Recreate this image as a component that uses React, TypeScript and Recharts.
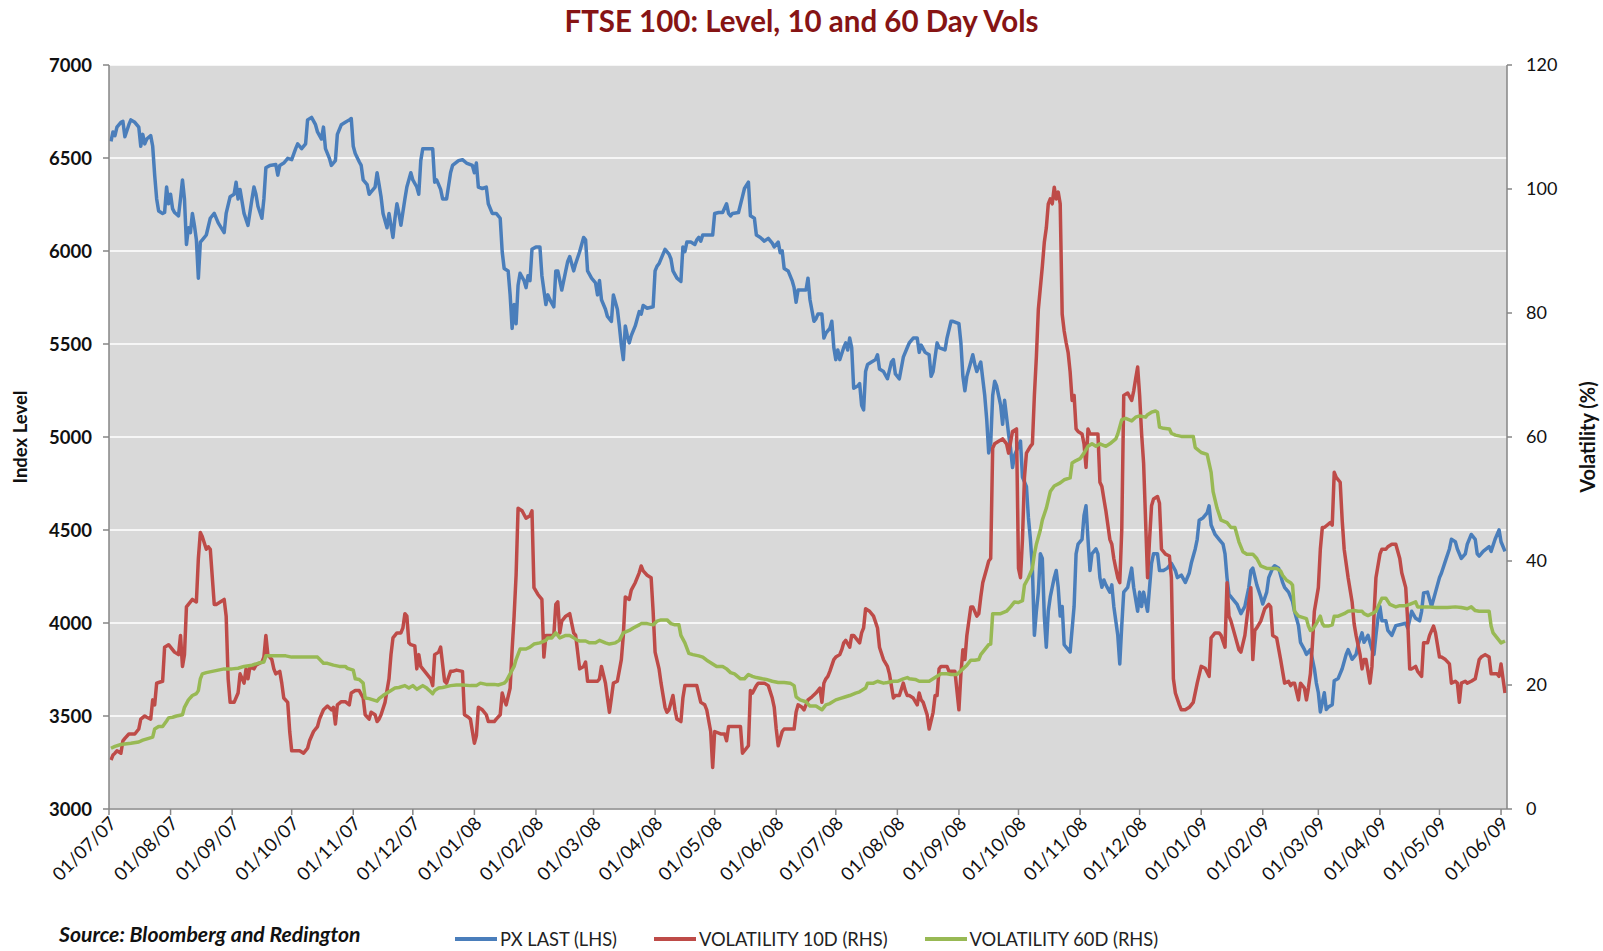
import { LineChart, Line, XAxis, YAxis, CartesianGrid } from "recharts";

// x values are days counted from 01/07/07
const START = Date.UTC(2007, 6, 1);
const DAY = 86400000;

const monthTicks = [
  "01/07/07", "01/08/07", "01/09/07", "01/10/07", "01/11/07", "01/12/07",
  "01/01/08", "01/02/08", "01/03/08", "01/04/08", "01/05/08", "01/06/08",
  "01/07/08", "01/08/08", "01/09/08", "01/10/08", "01/11/08", "01/12/08",
  "01/01/09", "01/02/09", "01/03/09", "01/04/09", "01/05/09", "01/06/09",
];
const axisEnd = "04/06/09";

const leftTicks = [3000, 3500, 4000, 4500, 5000, 5500, 6000, 6500, 7000];
const rightTicks = [0, 20, 40, 60, 80, 100, 120];

// PX LAST (LHS) [day, level]
const pxLast: [number, number][] = [
  [1, 6589], [2, 6640], [3, 6620], [4, 6666], [6, 6692], [7, 6697], [8, 6614], [10, 6679], [11, 6705], [13, 6692],
  [15, 6666], [16, 6563], [17, 6627], [18, 6576], [19, 6602], [21, 6620], [22, 6563], [23, 6408], [24, 6280], [25, 6215],
  [27, 6202], [28, 6207], [29, 6344], [30, 6254], [31, 6305], [32, 6228], [33, 6207], [35, 6189], [36, 6280], [37, 6382],
  [38, 6280], [39, 6035], [40, 6125], [41, 6099], [42, 6202], [43, 6138], [44, 6060], [45, 5854], [46, 6048], [47, 6060],
  [49, 6086], [51, 6176], [53, 6202], [55, 6151], [58, 6099], [59, 6202], [61, 6292], [63, 6305], [64, 6370], [65, 6280],
  [66, 6331], [68, 6202], [70, 6138], [72, 6280], [73, 6344], [74, 6305], [75, 6241], [77, 6176], [78, 6280], [79, 6447],
  [81, 6460], [84, 6465], [85, 6408], [86, 6460], [88, 6473], [90, 6498], [92, 6491], [94, 6550], [95, 6576], [97, 6550],
  [99, 6576], [100, 6705], [102, 6718], [104, 6679], [105, 6640], [107, 6602], [108, 6666], [109, 6550], [111, 6498], [112, 6460],
  [114, 6486], [115, 6627], [117, 6679], [119, 6692],
  [121, 6705], [122, 6712], [123, 6563], [124, 6524], [126, 6480], [127, 6460], [128, 6382], [130, 6357], [131, 6305], [132, 6318],
  [134, 6344], [135, 6421], [136, 6357], [137, 6292], [138, 6202], [140, 6125], [141, 6202], [142, 6138], [143, 6073], [144, 6176],
  [145, 6254], [146, 6202], [147, 6138], [149, 6280], [150, 6344], [152, 6421], [153, 6382], [155, 6344], [156, 6305], [157, 6486],
  [158, 6550], [160, 6550], [162, 6550], [163, 6550], [164, 6370], [165, 6382], [167, 6331], [168, 6280], [170, 6280], [172, 6421],
  [173, 6460], [176, 6486], [178, 6491], [180, 6473], [183, 6460], [184, 6421], [185, 6473], [186, 6344], [188, 6336], [190, 6344],
  [191, 6254], [193, 6202], [195, 6202], [197, 6176], [198, 5996], [199, 5906], [201, 5893], [202, 5764], [203, 5584], [204, 5712],
  [205, 5609], [206, 5816], [207, 5880], [209, 5841], [210, 5803], [211, 5867], [212, 5841], [213, 6009], [215, 6022], [217, 6022],
  [218, 5867], [220, 5712], [221, 5764], [222, 5738], [224, 5700], [225, 5893], [226, 5893], [228, 5790], [230, 5893], [231, 5944],
  [232, 5970], [234, 5893], [235, 5932], [237, 5996],
  [239, 6073], [240, 6060], [241, 5893], [243, 5854], [245, 5829], [246, 5764], [247, 5841], [248, 5738], [250, 5687], [251, 5648],
  [253, 5622], [254, 5764], [256, 5687], [257, 5597], [258, 5494], [259, 5416], [260, 5597], [261, 5545], [262, 5506], [263, 5545],
  [265, 5597], [267, 5674], [268, 5661], [269, 5707], [271, 5692], [274, 5700], [275, 5893], [276, 5919], [277, 5932], [279, 5983],
  [280, 6009], [282, 5983], [283, 5957], [284, 5893], [286, 5854], [288, 5836], [289, 6022], [290, 5996], [291, 6048], [293, 6048],
  [295, 6035], [296, 6060], [297, 6073], [298, 6053], [299, 6086], [301, 6086], [304, 6086], [305, 6202], [307, 6207], [309, 6207],
  [311, 6254], [312, 6202], [313, 6189], [314, 6202], [317, 6207], [319, 6292], [320, 6336], [322, 6370], [323, 6189], [325, 6176],
  [326, 6086], [328, 6073], [330, 6053], [332, 6068], [334, 6042], [335, 6022], [337, 6048], [338, 5991], [339, 6001], [340, 5906],
  [342, 5893], [344, 5841], [345, 5803], [346, 5725], [347, 5790], [349, 5790], [351, 5790], [352, 5854], [353, 5738], [355, 5622],
  [356, 5635],
  [357, 5661], [359, 5661], [360, 5532], [361, 5558], [363, 5584], [364, 5622], [365, 5481], [366, 5416], [367, 5468], [368, 5416],
  [370, 5481], [371, 5506], [372, 5468], [373, 5532], [374, 5481], [375, 5262], [377, 5274], [378, 5287], [379, 5171], [380, 5146],
  [381, 5352], [382, 5390], [384, 5403], [386, 5416], [387, 5442], [388, 5365], [390, 5352], [392, 5313], [394, 5403], [395, 5416],
  [396, 5339], [398, 5313], [400, 5429], [402, 5481], [403, 5506], [405, 5532], [407, 5532], [408, 5455], [409, 5494], [411, 5455],
  [413, 5442], [414, 5326], [415, 5352], [417, 5506], [418, 5481], [421, 5468], [422, 5532], [424, 5622], [425, 5622], [428, 5609],
  [429, 5506], [430, 5326], [431, 5249], [432, 5326], [434, 5403], [435, 5442], [436, 5390], [437, 5352], [439, 5403], [440, 5313],
  [441, 5223], [442, 5094], [443, 4914], [444, 4965], [445, 5223], [446, 5300], [447, 5274], [448, 5223], [449, 5171], [450, 5068],
  [451, 5197], [452, 5107], [453, 5017], [454, 4939], [455, 4836], [456, 4901], [457, 4927], [459, 4978], [460, 4785], [462, 4733],
  [463, 4566], [464, 4450], [465, 4295], [466, 3934], [467, 4063], [468, 4166], [469, 4372], [470, 4347], [471, 4037], [472, 3870],
  [473, 4063], [474, 4140],
  [476, 4244], [477, 4282], [478, 4192], [479, 4037], [480, 4089], [481, 3883], [483, 3857], [484, 3844], [486, 4089], [487, 4372],
  [488, 4424], [490, 4450], [491, 4579], [492, 4630], [493, 4450], [494, 4282], [495, 4372], [497, 4398], [498, 4372], [499, 4244],
  [500, 4192], [501, 4231], [502, 4205], [504, 4166], [505, 4205], [506, 4089], [508, 3934], [509, 3780], [510, 3986], [511, 4166],
  [513, 4192], [514, 4244], [515, 4295], [516, 4192], [518, 4063], [519, 4166], [520, 4089], [521, 4166], [523, 4063], [524, 4192],
  [525, 4321], [526, 4372], [528, 4372], [529, 4282], [531, 4282], [533, 4295], [535, 4321], [537, 4282], [538, 4244], [540, 4257],
  [542, 4218], [544, 4269], [545, 4321], [547, 4398], [548, 4450], [549, 4553], [551, 4566], [553, 4592], [554, 4630], [555, 4527],
  [557, 4476], [559, 4450], [561, 4424], [562, 4372], [563, 4244], [564, 4153], [565, 4141], [568, 4102], [570, 4050], [572, 4089],
  [574, 4192], [575, 4282], [576, 4295], [578, 4205], [580, 4141], [581, 4102], [583, 4166], [584, 4244], [586, 4295], [587, 4308],
  [589, 4295], [591, 4218], [592, 4192],
  [594, 4166], [596, 4115], [597, 4063], [599, 3986], [600, 3896], [602, 3857], [603, 3831], [605, 3857], [607, 3754], [608, 3677],
  [609, 3625], [610, 3522], [612, 3625], [613, 3535], [614, 3548], [616, 3561], [617, 3690], [619, 3702], [621, 3754], [623, 3831],
  [624, 3857], [626, 3805], [628, 3831], [629, 3883], [631, 3947], [632, 3896], [634, 3934], [636, 3857], [637, 3831], [638, 3934],
  [639, 4025], [640, 4089], [641, 4012], [643, 4012], [644, 3960], [646, 3934], [648, 3986], [650, 3991], [653, 3999], [654, 3973],
  [656, 4063], [658, 4025], [660, 4012], [661, 4063], [662, 4161], [664, 4166], [666, 4089], [668, 4166], [670, 4244], [671, 4269],
  [673, 4334], [675, 4398], [676, 4450], [678, 4437], [679, 4398], [681, 4347], [683, 4372], [684, 4424], [686, 4476], [688, 4450],
  [689, 4372], [690, 4360], [692, 4385], [695, 4411], [696, 4385], [698, 4450], [700, 4501], [701, 4437], [703, 4385],
];

// VOLATILITY 10D (RHS) [day, %]
const vol10d: [number, number][] = [
  [1, 7.9], [2, 8.7], [3, 9.0], [4, 9.4], [6, 9.0], [7, 11.0], [8, 11.4], [10, 12.1], [11, 12.1], [13, 12.1],
  [15, 12.9], [16, 14.5], [18, 15.0], [19, 14.8], [21, 14.5], [22, 17.6], [23, 16.8], [24, 20.3], [25, 20.4], [27, 20.6],
  [28, 26.1], [30, 26.5], [31, 26.1], [33, 25.3], [35, 24.9], [36, 28.0], [37, 23.0], [38, 24.9], [39, 32.6], [41, 33.4],
  [42, 33.8], [44, 33.4], [45, 40.4], [46, 44.6], [47, 43.9], [49, 41.9], [50, 42.3], [51, 41.9], [53, 33.0], [54, 33.0],
  [56, 33.4], [58, 33.8], [59, 31.1], [60, 21.0], [61, 17.2], [63, 17.2], [65, 18.7], [66, 21.8], [68, 20.3], [69, 22.6],
  [70, 21.0], [71, 23.0], [73, 22.6], [74, 23.2], [77, 23.7], [78, 24.5], [79, 28.0], [80, 24.9], [82, 24.1], [83, 22.6],
  [84, 21.8], [86, 22.2], [87, 20.3], [88, 17.9], [90, 17.2], [91, 12.5], [92, 9.4], [94, 9.4], [96, 9.4], [98, 9.0],
  [100, 9.8], [101, 11.0], [103, 12.5], [105, 13.3], [106, 14.5], [108, 16.0], [110, 16.6], [112, 16.0], [113, 16.4], [114, 13.7],
  [115, 16.8], [117, 17.3], [119, 17.3],
  [121, 16.8], [122, 18.7], [124, 19.1], [126, 19.1], [128, 17.9], [129, 15.2], [131, 14.5], [132, 15.6], [134, 15.2], [135, 14.1],
  [136, 14.5], [137, 15.2], [139, 17.2], [141, 21.0], [142, 24.9], [143, 27.6], [145, 28.4], [147, 28.4], [148, 29.2], [149, 31.5],
  [150, 31.1], [151, 26.8], [152, 26.5], [154, 26.3], [155, 22.6], [156, 24.9], [157, 23.0], [159, 22.2], [160, 21.8], [162, 21.0],
  [163, 19.9], [164, 24.9], [166, 25.3], [167, 26.1], [169, 20.6], [170, 20.3], [172, 22.2], [173, 22.2], [175, 22.4], [178, 22.2],
  [179, 15.2], [181, 14.8], [182, 14.5], [183, 12.5], [184, 10.6], [185, 11.8], [186, 16.4], [188, 16.0], [190, 15.2], [191, 14.1],
  [194, 14.1], [195, 14.5], [197, 15.2], [198, 18.7], [199, 17.6], [200, 16.8], [202, 19.5], [203, 25.7], [204, 31.1], [205, 37.7],
  [206, 48.5], [208, 48.1], [210, 46.9], [212, 47.3], [213, 48.1], [214, 35.7], [216, 34.6], [218, 33.8], [219, 24.5], [220, 28.0],
  [222, 28.0], [224, 28.0], [225, 33.0], [226, 33.4], [227, 28.4], [228, 30.3], [230, 31.1], [232, 31.5], [234, 28.4], [235, 28.0],
  [236, 25.3], [237, 22.6],
  [239, 23.0], [240, 23.7], [241, 20.6], [243, 20.6], [246, 20.6], [247, 21.0], [248, 23.0], [250, 20.3], [251, 17.9], [252, 15.6],
  [253, 17.9], [254, 20.3], [256, 20.6], [258, 24.1], [259, 28.0], [260, 34.2], [262, 33.8], [263, 35.3], [265, 36.5], [267, 38.1],
  [268, 39.2], [269, 38.4], [271, 37.7], [273, 37.3], [274, 31.9], [275, 25.3], [277, 22.6], [278, 20.3], [280, 16.4], [281, 15.6],
  [282, 16.0], [284, 18.3], [285, 16.0], [286, 14.5], [288, 14.1], [289, 17.9], [290, 19.9], [292, 19.9], [294, 19.9], [296, 19.9],
  [298, 17.2], [300, 16.8], [301, 16.0], [303, 12.5], [304, 6.7], [305, 12.5], [308, 12.1], [310, 12.1], [311, 11.0], [312, 13.3],
  [314, 13.3], [317, 13.3], [318, 13.3], [319, 9.0], [320, 9.4], [322, 10.2], [323, 19.1], [324, 18.7], [326, 19.9], [327, 20.3],
  [330, 20.3], [332, 19.9], [334, 17.9], [335, 16.4], [336, 12.9], [337, 10.2], [339, 12.5], [340, 12.9], [343, 12.9], [345, 12.9],
  [346, 15.6], [347, 16.8], [349, 16.4], [350, 16.0], [352, 17.6], [354, 18.1], [356, 18.7],
  [358, 19.5], [359, 17.2], [360, 20.3], [361, 21.0], [362, 21.4], [363, 22.2], [365, 24.1], [366, 24.5], [368, 24.9], [369, 25.7],
  [370, 26.8], [371, 27.2], [373, 26.1], [374, 28.0], [375, 28.0], [377, 27.2], [378, 26.8], [379, 28.4], [380, 29.2], [381, 32.3],
  [383, 31.9], [385, 31.1], [387, 29.2], [388, 26.1], [390, 24.1], [392, 23.0], [393, 21.8], [395, 17.9], [396, 18.3], [398, 18.3],
  [400, 20.3], [401, 19.1], [402, 18.3], [403, 18.3], [405, 17.9], [407, 16.8], [408, 18.7], [409, 17.6], [410, 17.2], [412, 15.2],
  [413, 12.9], [415, 15.6], [416, 18.3], [417, 18.3], [418, 22.6], [419, 23.0], [422, 23.0], [423, 22.2], [424, 22.2], [426, 22.2],
  [428, 16.0], [429, 21.8], [430, 25.7], [431, 24.1], [432, 28.0], [434, 32.6], [435, 32.6], [437, 31.1], [438, 31.5], [439, 34.2],
  [440, 36.5], [442, 38.8], [443, 40.0], [444, 40.4], [445, 58.2], [446, 58.9], [448, 59.3], [450, 59.7], [452, 58.9], [453, 57.4],
  [455, 60.9], [457, 61.3], [458, 38.8], [459, 37.3], [460, 43.5], [461, 53.5], [462, 57.4], [464, 58.5], [465, 58.9], [466, 66.7],
  [467, 72.9], [468, 80.6], [470, 87.5], [471, 91.4], [472, 93.7], [473, 97.6], [474, 98.4],
  [475, 97.6], [476, 100.3], [477, 98.4], [478, 99.5], [479, 97.6], [480, 79.8], [481, 77.1], [482, 75.2], [483, 73.6], [484, 70.5],
  [485, 65.9], [486, 66.7], [487, 61.3], [488, 60.9], [490, 60.5], [491, 58.9], [492, 55.1], [493, 61.3], [494, 60.5], [497, 60.5],
  [498, 60.5], [499, 52.7], [500, 52.0], [501, 50.0], [502, 48.1], [504, 43.5], [505, 42.7], [506, 40.4], [507, 38.8], [508, 37.3],
  [509, 36.5], [510, 45.0], [511, 66.7], [513, 67.1], [515, 65.9], [516, 67.4], [517, 69.4], [518, 71.3], [519, 66.7], [520, 60.5],
  [521, 55.8], [523, 37.3], [524, 43.5], [525, 48.9], [526, 50.0], [528, 50.4], [529, 49.3], [530, 41.9], [531, 41.5], [532, 41.1],
  [534, 40.8], [535, 37.3], [536, 21.0], [537, 18.7], [539, 16.8], [540, 16.0], [542, 16.0], [544, 16.4], [546, 17.2], [548, 20.3],
  [550, 23.0], [552, 22.7], [554, 21.4], [555, 27.6], [557, 28.4], [559, 28.4], [560, 28.0], [562, 26.1], [563, 36.5], [564, 31.1],
  [565, 30.3], [567, 28.0], [569, 25.7], [570, 25.3], [572, 28.0], [574, 33.4], [575, 35.7], [576, 24.1], [577, 28.8], [578, 29.2],
  [580, 30.3], [582, 32.3], [584, 33.0], [585, 32.6], [586, 28.0], [588, 27.6], [590, 24.1], [592, 20.3],
  [594, 20.6], [595, 19.9], [596, 20.3], [597, 20.3], [599, 17.6], [600, 20.3], [601, 19.9], [602, 19.5], [603, 17.6], [604, 19.5],
  [605, 21.8], [606, 26.5], [607, 31.9], [609, 35.7], [610, 41.9], [611, 45.4], [612, 45.4], [615, 46.2], [616, 45.8], [617, 54.3],
  [618, 53.5], [620, 52.7], [621, 46.6], [622, 41.9], [623, 39.6], [624, 37.3], [626, 33.4], [627, 29.9], [628, 28.0], [630, 24.9],
  [631, 22.6], [632, 24.1], [633, 24.1], [635, 20.3], [636, 23.0], [637, 31.1], [638, 37.3], [640, 41.1], [641, 41.9], [643, 41.9],
  [644, 42.3], [646, 42.7], [648, 42.7], [650, 40.4], [651, 38.1], [653, 35.7], [654, 30.3], [655, 22.6], [656, 22.6], [658, 23.0],
  [659, 22.2], [661, 21.4], [662, 26.8], [664, 26.8], [665, 28.0], [667, 29.5], [668, 28.4], [670, 24.5], [671, 24.5], [673, 24.1],
  [675, 23.4], [676, 20.3], [678, 20.6], [679, 20.3], [680, 17.2], [681, 20.3], [683, 20.6], [684, 20.3], [686, 20.6], [688, 21.0],
  [690, 24.1], [691, 24.5], [693, 24.9], [695, 24.5], [696, 21.8], [697, 21.8], [699, 21.8], [700, 21.4], [701, 23.4], [702, 21.0],
  [703, 18.7],
];

// VOLATILITY 60D (RHS) [day, %]
const vol60d: [number, number][] = [
  [1, 9.8], [3, 10.1], [6, 10.4], [11, 10.6], [15, 10.8], [17, 11.1], [20, 11.4], [22, 11.6], [23, 12.9], [25, 13.3],
  [27, 13.3], [29, 14.2], [30, 14.7], [32, 14.8], [34, 15.0], [37, 15.2], [38, 16.4], [40, 17.6], [42, 18.3], [44, 18.6],
  [45, 19.1], [46, 21.0], [47, 21.8], [49, 22.0], [52, 22.2], [55, 22.4], [58, 22.6], [62, 22.6], [65, 22.7], [68, 23.0],
  [72, 23.2], [75, 23.5], [78, 23.7], [79, 24.7], [82, 24.7], [85, 24.7], [89, 24.7], [92, 24.5], [95, 24.5], [99, 24.5],
  [102, 24.5], [105, 24.5], [108, 23.5], [110, 23.5], [113, 23.2], [116, 23.0], [119, 23.0],
  [120, 22.7], [121, 22.6], [123, 22.4], [124, 21.0], [126, 20.9], [127, 20.6], [128, 20.3], [129, 17.9], [131, 17.8], [133, 17.6],
  [135, 17.4], [136, 17.8], [138, 18.3], [140, 18.7], [142, 19.1], [144, 19.5], [146, 19.6], [149, 19.9], [151, 19.5], [153, 19.9],
  [155, 19.3], [158, 19.9], [160, 19.5], [162, 18.9], [163, 18.6], [164, 19.1], [166, 19.5], [168, 19.6], [172, 19.9], [175, 20.0],
  [178, 20.0], [182, 19.9], [185, 19.9], [187, 20.3], [190, 20.1], [194, 20.1], [196, 20.0], [199, 20.3], [200, 20.6], [202, 21.8],
  [204, 23.0], [205, 24.1], [207, 25.8], [210, 25.8], [212, 26.1], [214, 26.6], [217, 26.8], [220, 27.2], [221, 27.6], [223, 27.6],
  [225, 28.4], [227, 27.6], [230, 28.0], [232, 28.0], [234, 27.6], [236, 27.2], [237, 27.1],
  [240, 27.1], [242, 26.8], [245, 26.8], [247, 27.2], [250, 26.8], [252, 26.6], [255, 26.8], [257, 27.2], [259, 28.4], [262, 28.8],
  [264, 29.2], [267, 29.7], [268, 29.9], [271, 29.9], [274, 29.7], [276, 30.3], [278, 30.5], [281, 30.5], [283, 29.9], [285, 29.7],
  [287, 29.7], [288, 28.0], [290, 26.8], [292, 25.1], [294, 24.9], [297, 24.7], [299, 24.5], [301, 24.0], [304, 23.4], [306, 23.0],
  [309, 23.0], [311, 22.6], [313, 22.0], [315, 21.8], [318, 21.0], [320, 21.0], [322, 21.7], [324, 21.4], [326, 21.2], [329, 21.0],
  [331, 20.9], [334, 20.6], [337, 20.4], [340, 20.4], [343, 20.3], [345, 19.9], [346, 18.1], [348, 17.6], [351, 17.3], [353, 16.6],
  [356, 16.6],
  [359, 16.0], [361, 16.8], [363, 17.0], [366, 17.6], [368, 17.8], [371, 18.1], [373, 18.3], [376, 18.7], [378, 18.9], [381, 19.5],
  [382, 20.3], [385, 20.3], [387, 20.6], [390, 20.3], [392, 20.4], [395, 20.6], [397, 20.6], [400, 21.0], [402, 21.2], [403, 21.0],
  [406, 20.9], [408, 20.6], [410, 20.6], [413, 20.6], [415, 21.0], [417, 21.4], [419, 21.8], [422, 21.8], [424, 21.7], [427, 21.7],
  [428, 22.0], [430, 22.6], [432, 23.2], [434, 24.0], [436, 24.0], [438, 24.1], [439, 24.9], [441, 25.7], [443, 26.5], [444, 26.6],
  [445, 31.5], [447, 31.5], [449, 31.5], [452, 31.9], [454, 32.6], [456, 33.4], [458, 33.3], [460, 33.6], [461, 36.1], [463, 37.3],
  [465, 38.8], [466, 41.1], [467, 42.7], [469, 45.0], [470, 46.6], [472, 48.5], [474, 51.2],
  [476, 52.1], [479, 52.6], [481, 53.1], [484, 53.4], [485, 55.8], [487, 56.2], [489, 56.5], [491, 57.4], [493, 58.5], [495, 58.9],
  [497, 58.5], [499, 58.9], [502, 58.5], [504, 58.9], [507, 59.7], [508, 60.5], [510, 62.8], [512, 63.0], [515, 62.6], [517, 63.2],
  [519, 63.4], [522, 63.2], [523, 63.6], [525, 64.0], [527, 64.2], [528, 64.0], [529, 61.6], [531, 61.4], [534, 61.3], [535, 60.6],
  [537, 60.3], [540, 60.1], [544, 60.1], [546, 60.1], [547, 58.3], [550, 57.5], [553, 57.2], [555, 54.3], [556, 51.2], [558, 48.5],
  [560, 46.6], [563, 46.2], [565, 45.4], [567, 45.4], [569, 43.1], [571, 41.5], [573, 41.1], [576, 41.1], [578, 40.4], [580, 39.2],
  [583, 38.8], [586, 38.8], [588, 38.8], [590, 38.4], [591, 37.7], [592, 37.3],
  [593, 36.9], [595, 36.5], [596, 36.1], [597, 31.9], [599, 31.1], [601, 30.9], [603, 30.7], [604, 29.5], [605, 28.8], [606, 28.9],
  [608, 29.9], [610, 31.1], [611, 29.9], [612, 29.5], [614, 29.5], [616, 29.7], [617, 31.1], [619, 31.1], [622, 31.5], [624, 31.9],
  [627, 32.0], [629, 31.9], [631, 31.9], [632, 31.5], [634, 31.2], [636, 31.5], [638, 31.9], [639, 32.6], [641, 34.0], [643, 34.0],
  [645, 33.0], [648, 32.6], [650, 32.8], [653, 32.8], [655, 33.0], [658, 33.4], [659, 32.6], [662, 32.6], [664, 32.6], [668, 32.5],
  [671, 32.5], [674, 32.5], [678, 32.6], [681, 32.5], [684, 32.3], [686, 32.6], [688, 32.0], [690, 31.9], [692, 31.9], [695, 31.9],
  [696, 29.5], [697, 28.4], [699, 27.6], [701, 26.8], [703, 27.1],
];

const FONT = "Lato, 'Open Sans', sans-serif";
const BLUE = "#4A7EBB";
const RED = "#BE4B48";
const GREEN = "#98B954";
const AXIS = "#868686";

const toDay = (s: string) => {
  const [d, m, y] = s.split("/").map(Number);
  return Math.round((Date.UTC(2000 + y, m - 1, d) - START) / DAY);
};
const tickDays = monthTicks.map(toDay);
const labelByDay: Record<number, string> = {};
monthTicks.forEach((t, i) => (labelByDay[tickDays[i]] = t));

const rows = (pts: [number, number][]) => pts.map(([day, v]) => ({ day, v }));

function DateTick(props: any) {
  const { x, y, payload } = props;
  const ax = x + 4;
  const ay = y + 3;
  return (
    <text
      x={ax}
      y={ay}
      dy="0.35em"
      textAnchor="end"
      transform={`rotate(-45 ${ax} ${ay})`}
      fontSize={18.5}
      fontFamily={FONT}
      fill="#111"
    >
      {labelByDay[payload.value]}
    </text>
  );
}

const legendItems = [
  { name: "PX LAST (LHS)", color: BLUE },
  { name: "VOLATILITY 10D (RHS)", color: RED },
  { name: "VOLATILITY 60D (RHS)", color: GREEN },
];

export default function App() {
  return (
    <div style={{ position: "relative", width: 1603, height: 951, background: "#fff", fontFamily: FONT }}>
      <style>{"body{margin:0}"}</style>
      <div
        style={{
          position: "absolute", top: 3, left: 0, width: 1603, textAlign: "center",
          fontSize: 29.5, fontWeight: 700, color: "#861414",
        }}
      >
        FTSE 100: Level, 10 and 60 Day Vols
      </div>
      <LineChart width={1603} height={951} margin={{ top: 65, right: 0, bottom: 52, left: 0 }}>
        <CartesianGrid yAxisId="left" vertical={false} stroke="#FFFFFF" strokeWidth={1.5} fill="#D9D9D9" fillOpacity={1} />
        <XAxis
          dataKey="day"
          type="number"
          domain={[0, toDay(axisEnd)]}
          ticks={tickDays}
          interval={0}
          allowDataOverflow
          height={90}
          tickSize={6}
          tick={<DateTick />}
          stroke={AXIS}
          strokeWidth={1.5}
        />
        <YAxis
          yAxisId="left"
          domain={[3000, 7000]}
          ticks={leftTicks}
          width={109}
          tickSize={6}
          tickMargin={11}
          stroke={AXIS}
          strokeWidth={1.5}
          tick={{ fontSize: 18.5, fontWeight: 700, fill: "#111", fontFamily: FONT }}
          label={{
            value: "Index Level", angle: -90, position: "insideLeft", offset: 20,
            style: { textAnchor: "middle", fontSize: 18.5, fontWeight: 700, fill: "#111", fontFamily: FONT },
          }}
        />
        <YAxis
          yAxisId="right"
          orientation="right"
          domain={[0, 120]}
          ticks={rightTicks}
          width={96}
          tickSize={5}
          tickMargin={14}
          stroke={AXIS}
          strokeWidth={1.5}
          tick={{ fontSize: 18, fill: "#111", fontFamily: FONT }}
          label={{
            value: "Volatility (%)", angle: -90, position: "insideRight", offset: 15,
            style: { textAnchor: "middle", fontSize: 20, fontWeight: 700, fill: "#111", fontFamily: FONT },
          }}
        />
        <Line yAxisId="left" data={rows(pxLast)} dataKey="v" name="PX LAST (LHS)" stroke={BLUE} strokeWidth={3.5} dot={false} isAnimationActive={false} strokeLinejoin="round" />
        <Line yAxisId="right" data={rows(vol10d)} dataKey="v" name="VOLATILITY 10D (RHS)" stroke={RED} strokeWidth={3.5} dot={false} isAnimationActive={false} strokeLinejoin="round" />
        <Line yAxisId="right" data={rows(vol60d)} dataKey="v" name="VOLATILITY 60D (RHS)" stroke={GREEN} strokeWidth={3.5} dot={false} isAnimationActive={false} strokeLinejoin="round" />
      </LineChart>
      <div
        style={{
          position: "absolute", left: 59, top: 921, fontSize: 21.2, fontWeight: 700, fontStyle: "italic", color: "#111",
        }}
      >
        Source: Bloomberg and Redington
      </div>
      <div style={{ position: "absolute", left: 455, top: 928, display: "flex", gap: 37, alignItems: "center" }}>
        {legendItems.map((it) => (
          <div key={it.name} style={{ display: "flex", alignItems: "center", gap: 3 }}>
            <div style={{ width: 42, height: 4, background: it.color }} />
            <span style={{ fontSize: 18.3, color: "#222", whiteSpace: "nowrap" }}>{it.name}</span>
          </div>
        ))}
      </div>
    </div>
  );
}
